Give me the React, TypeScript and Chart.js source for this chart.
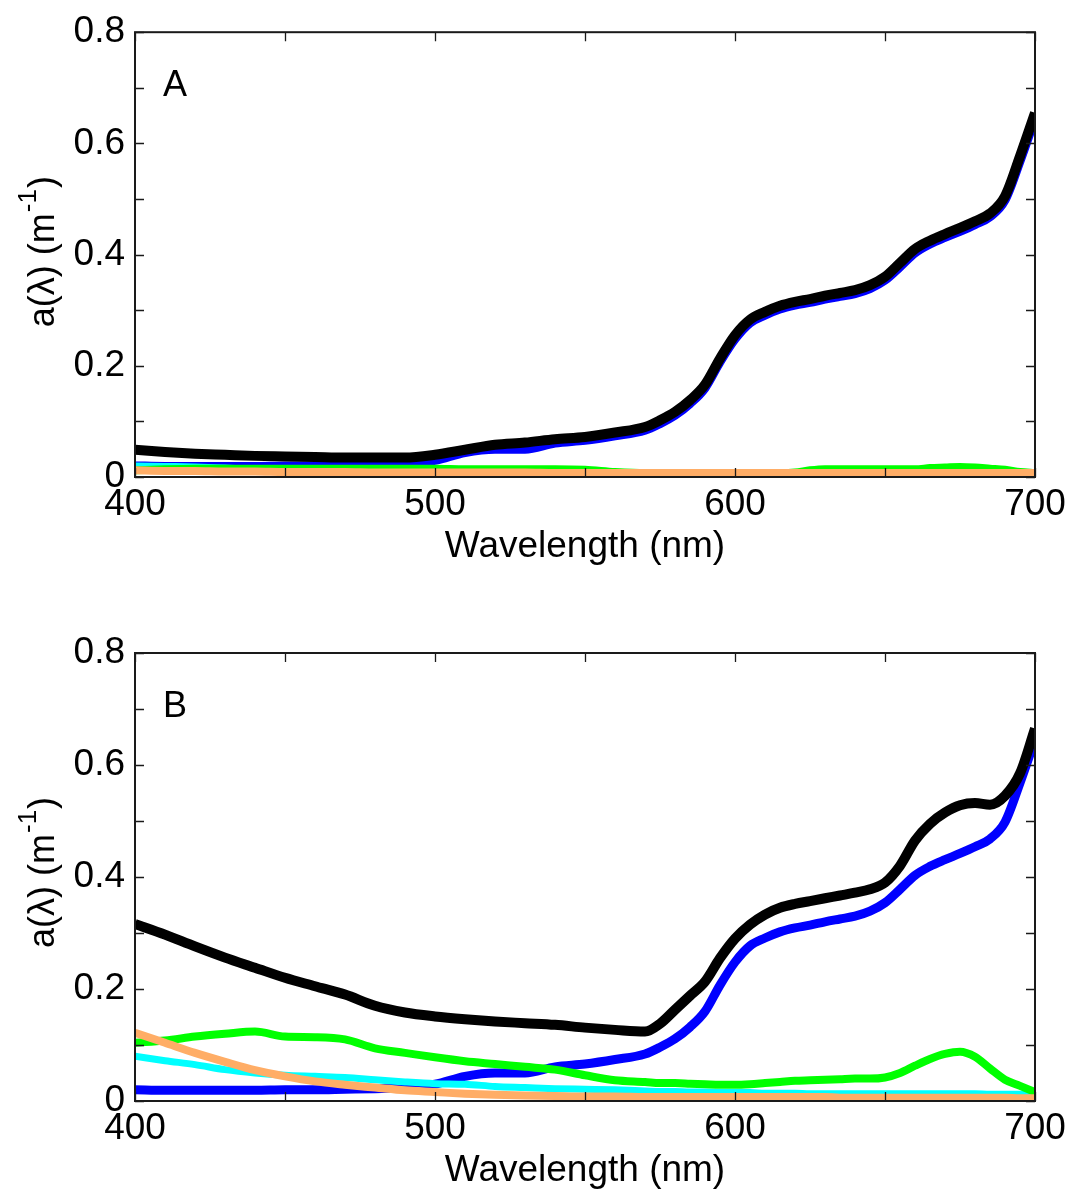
import React, { useEffect, useRef } from "react";
import { Chart, registerables } from "chart.js";

Chart.register(...registerables);

// Wavelength grid (nm)
const WL = [400, 410, 420, 430, 440, 450, 460, 470, 480, 490, 500, 510, 520, 530, 540, 550, 560, 570, 575, 580, 585, 590, 595, 600, 605, 610, 615, 620, 625, 630, 635, 640, 645, 650, 655, 660, 665, 670, 675, 680, 685, 690, 695, 700];

// Shared blue series (both panels)
const blueSeries = [0.020, 0.019, 0.019, 0.019, 0.019, 0.020, 0.020, 0.021, 0.022, 0.024, 0.030, 0.044, 0.050, 0.050, 0.061, 0.066, 0.074, 0.084, 0.096, 0.111, 0.132, 0.160, 0.207, 0.248, 0.277, 0.291, 0.302, 0.309, 0.314, 0.320, 0.325, 0.330, 0.339, 0.354, 0.378, 0.403, 0.419, 0.431, 0.442, 0.454, 0.468, 0.498, 0.568, 0.645];

// Panel A
const blackA = [0.049, 0.045, 0.042, 0.040, 0.038, 0.037, 0.036, 0.035, 0.035, 0.035, 0.040, 0.049, 0.058, 0.062, 0.068, 0.072, 0.080, 0.090, 0.102, 0.117, 0.138, 0.166, 0.213, 0.255, 0.283, 0.297, 0.308, 0.315, 0.320, 0.326, 0.331, 0.336, 0.345, 0.360, 0.385, 0.410, 0.425, 0.437, 0.448, 0.460, 0.474, 0.505, 0.577, 0.655];
const greenA = [0.012, 0.014, 0.015, 0.015, 0.015, 0.015, 0.015, 0.015, 0.015, 0.015, 0.015, 0.014, 0.014, 0.014, 0.014, 0.013, 0.009, 0.007, 0.007, 0.007, 0.007, 0.007, 0.007, 0.007, 0.007, 0.007, 0.007, 0.008, 0.012, 0.014, 0.014, 0.014, 0.014, 0.014, 0.014, 0.014, 0.016, 0.017, 0.018, 0.017, 0.015, 0.013, 0.009, 0.007];
const cyanA = [0.020, 0.019, 0.018, 0.016, 0.014, 0.013, 0.013, 0.012, 0.012, 0.012, 0.010, 0.009, 0.009, 0.009, 0.008, 0.008, 0.008, 0.008, 0.008, 0.007, 0.007, 0.007, 0.007, 0.007, 0.007, 0.007, 0.007, 0.007, 0.007, 0.007, 0.007, 0.007, 0.007, 0.007, 0.007, 0.007, 0.007, 0.007, 0.007, 0.007, 0.007, 0.007, 0.007, 0.007];
const orangeA = [0.012, 0.011, 0.011, 0.010, 0.010, 0.009, 0.009, 0.009, 0.008, 0.008, 0.008, 0.008, 0.008, 0.008, 0.007, 0.007, 0.007, 0.007, 0.007, 0.007, 0.007, 0.007, 0.007, 0.007, 0.007, 0.007, 0.007, 0.007, 0.007, 0.007, 0.007, 0.007, 0.007, 0.007, 0.007, 0.007, 0.007, 0.007, 0.007, 0.007, 0.007, 0.007, 0.007, 0.007];

// Panel B
const blackB = [0.316, 0.297, 0.276, 0.256, 0.238, 0.220, 0.205, 0.190, 0.170, 0.158, 0.151, 0.146, 0.142, 0.139, 0.136, 0.131, 0.127, 0.124, 0.138, 0.163, 0.188, 0.213, 0.255, 0.290, 0.315, 0.333, 0.345, 0.352, 0.357, 0.362, 0.367, 0.372, 0.378, 0.390, 0.420, 0.465, 0.495, 0.515, 0.528, 0.532, 0.529, 0.545, 0.585, 0.665];
const greenB = [0.104, 0.108, 0.115, 0.120, 0.124, 0.115, 0.114, 0.110, 0.094, 0.086, 0.078, 0.071, 0.066, 0.061, 0.056, 0.046, 0.037, 0.034, 0.032, 0.032, 0.031, 0.030, 0.029, 0.029, 0.030, 0.032, 0.034, 0.036, 0.037, 0.038, 0.039, 0.040, 0.040, 0.042, 0.050, 0.063, 0.075, 0.084, 0.088, 0.079, 0.058, 0.038, 0.027, 0.016];
const cyanB = [0.080, 0.072, 0.065, 0.056, 0.050, 0.046, 0.044, 0.042, 0.038, 0.034, 0.031, 0.030, 0.026, 0.024, 0.022, 0.021, 0.020, 0.018, 0.017, 0.017, 0.016, 0.016, 0.015, 0.015, 0.015, 0.014, 0.014, 0.014, 0.013, 0.013, 0.013, 0.013, 0.013, 0.013, 0.013, 0.013, 0.013, 0.013, 0.013, 0.013, 0.012, 0.012, 0.012, 0.012];
const orangeB = [0.122, 0.104, 0.086, 0.070, 0.055, 0.044, 0.035, 0.029, 0.024, 0.019, 0.016, 0.013, 0.011, 0.010, 0.009, 0.008, 0.008, 0.007, 0.007, 0.007, 0.007, 0.007, 0.007, 0.007, 0.007, 0.007, 0.007, 0.007, 0.007, 0.007, 0.006, 0.006, 0.006, 0.006, 0.006, 0.006, 0.006, 0.006, 0.006, 0.006, 0.006, 0.006, 0.005, 0.005];

// Axis ticks
const X_TICK_MARKS = [400, 450, 500, 550, 600, 650, 700];
const Y_TICK_MARKS = [0, 0.1, 0.2, 0.3, 0.4, 0.5, 0.6, 0.7, 0.8];
const X_LABEL_STEP = 100;
const Y_LABEL_STEP = 0.2;

const FONT = '"Liberation Sans", Arial, Helvetica, sans-serif';
const COLORS = {
  black: "#000000",
  blue: "#0000ff",
  green: "#00ff00",
  cyan: "#00ffff",
  orange: "#ffad66",
};

const pts = (ys: number[]) => WL.map((x, i) => ({ x, y: ys[i] }));

const framePlugin = {
  id: "frame",
  afterDatasetsDraw(chart: any, _args: any, opts: any) {
    const { ctx, chartArea: a, scales } = chart;
    const x = scales.x;
    const y = scales.y;
    ctx.save();
    ctx.strokeStyle = "#1a1a1a";
    ctx.lineWidth = 1.3;
    ctx.beginPath();
    const TL = 9;
    for (const v of X_TICK_MARKS) {
      const px = Math.round(x.getPixelForValue(v)) + 0.5;
      ctx.moveTo(px, a.bottom);
      ctx.lineTo(px, a.bottom - TL);
      ctx.moveTo(px, a.top);
      ctx.lineTo(px, a.top + TL);
    }
    for (const v of Y_TICK_MARKS) {
      const py = Math.round(y.getPixelForValue(v)) + 0.5;
      ctx.moveTo(a.left, py);
      ctx.lineTo(a.left + TL, py);
      ctx.moveTo(a.right, py);
      ctx.lineTo(a.right - TL, py);
    }
    ctx.stroke();
    ctx.lineWidth = 2;
    ctx.strokeRect(a.left, a.top, a.right - a.left, a.bottom - a.top);

    // panel letter
    ctx.fillStyle = "#000";
    ctx.font = `36px ${FONT}`;
    ctx.textBaseline = "alphabetic";
    ctx.textAlign = "left";
    ctx.fillText(opts.letter, a.left + 28, a.top + 64);

    // y-axis title with superscript
    ctx.translate(54, a.top + 295);
    ctx.rotate(-Math.PI / 2);
    const main = "a(\u03bb) (m";
    ctx.font = `36px ${FONT}`;
    ctx.fillText(main, 0, 0);
    let cx = ctx.measureText(main).width;
    ctx.font = `26px ${FONT}`;
    ctx.fillText("-1", cx + 1, -18);
    cx += ctx.measureText("-1").width + 2;
    ctx.font = `36px ${FONT}`;
    ctx.fillText(")", cx, 0);
    ctx.restore();
  },
};

type PanelProps = {
  letter: string;
  black: number[];
  green: number[];
  cyan: number[];
  orange: number[];
  blue: number[];
  height: number;
  padTop: number;
  xAxisHeight: number;
  titlePadBottom: number;
};

function Panel(p: PanelProps) {
  const ref = useRef<HTMLCanvasElement | null>(null);
  useEffect(() => {
    const canvas = ref.current;
    if (!canvas) return;
    const line = (data: number[], color: string, width: number) => ({
      data: pts(data),
      borderColor: color,
      backgroundColor: color,
      borderWidth: width,
      pointRadius: 0,
      cubicInterpolationMode: "monotone" as const,
      fill: false,
      borderJoinStyle: "round" as const,
      borderCapStyle: "butt" as const,
    });
    const chart = new Chart(canvas, {
      type: "line",
      data: {
        datasets: [
          line(p.black, COLORS.black, 10),
          line(p.orange, COLORS.orange, 8),
          line(p.green, COLORS.green, 8),
          line(p.cyan, COLORS.cyan, 7),
          line(p.blue, COLORS.blue, 9),
        ],
      },
      options: {
        animation: false,
        responsive: false,
        devicePixelRatio: 1,
        layout: { padding: { top: p.padTop, right: 38, left: 0, bottom: 0 } },
        plugins: {
          legend: { display: false },
          tooltip: { enabled: false },
          frame: { letter: p.letter },
        } as any,
        scales: {
          x: {
            type: "linear",
            min: 400,
            max: 700,
            grid: { display: false, drawTicks: false, tickLength: 0 },
            border: { display: false },
            ticks: {
              stepSize: X_LABEL_STEP,
              color: "#000",
              padding: 6,
              maxRotation: 0,
              autoSkip: false,
              font: { family: FONT, size: 37 },
              callback: (v: any) => String(Math.round(Number(v))),
            },
            title: {
              display: true,
              text: "Wavelength (nm)",
              color: "#000",
              font: { family: FONT, size: 37 },
              padding: { top: 0, bottom: p.titlePadBottom },
            },
            afterFit: (s: any) => {
              s.height = p.xAxisHeight;
            },
          },
          y: {
            type: "linear",
            min: 0,
            max: 0.8,
            grid: { display: false, drawTicks: false, tickLength: 0 },
            border: { display: false },
            ticks: {
              stepSize: Y_LABEL_STEP,
              color: "#000",
              padding: 10,
              font: { family: FONT, size: 37 },
              callback: (v: any) => String(Math.round(Number(v) * 10) / 10),
            },
            afterFit: (s: any) => {
              s.width = 135;
            },
          },
        },
      } as any,
      plugins: [framePlugin as any],
    });
    return () => chart.destroy();
  }, []);
  return (
    <canvas
      ref={ref}
      width={1073}
      height={p.height}
      style={{ display: "block", width: 1073, height: p.height }}
    />
  );
}

export default function App() {
  return (
    <div
      style={{
        position: "absolute",
        left: 0,
        top: 0,
        width: 1073,
        height: 1197,
        background: "#fff",
      }}
    >
      <Panel
        letter="A"
        black={blackA}
        green={greenA}
        cyan={cyanA}
        orange={orangeA}
        blue={blueSeries}
        height={600}
        padTop={28}
        xAxisHeight={123}
        titlePadBottom={31}
      />
      <Panel
        letter="B"
        black={blackB}
        green={greenB}
        cyan={cyanB}
        orange={orangeB}
        blue={blueSeries}
        height={597}
        padTop={53}
        xAxisHeight={96}
        titlePadBottom={4}
      />
    </div>
  );
}
